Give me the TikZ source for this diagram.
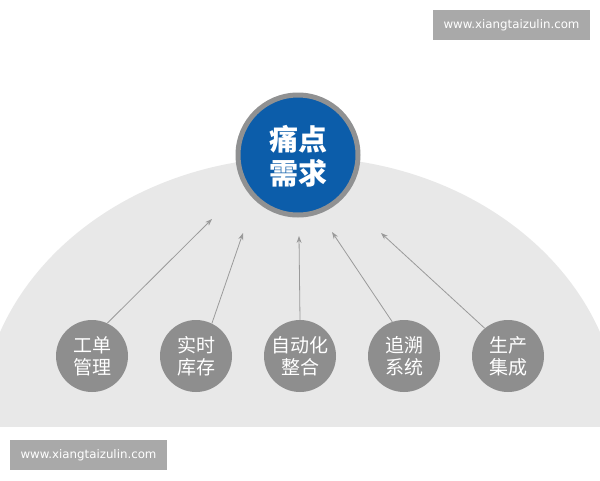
\documentclass[tikz,border=0pt]{standalone}
\usepackage{fontspec}
\setmainfont{DejaVu Sans}
\newfontfamily\cjk{Noto Sans CJK SC}
\usetikzlibrary{arrows.meta}
\definecolor{domegray}{HTML}{E8E8E8}
\definecolor{hubblue}{HTML}{0C5DAA}
\definecolor{ringgray}{HTML}{909192}
\definecolor{leafgray}{HTML}{8E8E8E}
\definecolor{arrgray}{HTML}{9A9A9A}
\definecolor{markgray}{HTML}{A9A9A9}
\tikzset{
  hub/.style={circle, fill=hubblue, draw=ringgray, line width=5pt, minimum size=120pt, inner sep=0pt,
    text=white, align=center, font=\cjk\bfseries\fontsize{29}{34}\selectfont},
  leaf/.style={circle, fill=leafgray, minimum size=72pt, inner sep=0pt,
    text=white, align=center, font=\cjk\fontsize{19}{22}\selectfont},
  arr/.style={draw=arrgray, line width=0.8pt, -{Stealth[length=7pt,width=5pt]}},
  wmark/.style={fill=markgray, text=white, inner sep=0pt, font=\fontsize{11.8}{13}\selectfont},
}
\begin{document}
\begin{tikzpicture}[x=1pt, y=-1pt]
\useasboundingbox (0,0) rectangle (600,480);
\fill[white] (0,0) rectangle (600,480);
\begin{scope}
  \clip (0,0) rectangle (600,426);
  \fill[domegray] (300,426) ellipse [x radius=320pt, y radius=269pt];
\end{scope}
\node[hub, text depth=-3pt] (hub) at (298,155) {痛点\\需求};
\node[leaf] (c1) at (92,356) {工单\\管理};
\node[leaf] (c2) at (196,356) {实时\\库存};
\node[leaf] (c3) at (300,356) {自动化\\整合};
\node[leaf] (c4) at (404,356) {追溯\\系统};
\node[leaf] (c5) at (508,356) {生产\\集成};
\coordinate (t1) at (212,219);
\coordinate (t2) at (243,233);
\coordinate (t3) at (299,236);
\coordinate (t4) at (332,232);
\coordinate (t5) at (381,233);
\draw[arr] (c1.65) -- (t1);
\draw[arr] (c2.64) -- (t2);
\draw[arr] (c3.90) -- (t3);
\draw[arr] (c4.109) -- (t4);
\draw[arr] (c5.130) -- (t5);
\node[wmark, minimum width=157pt, minimum height=30pt] (w1) at (511.5,25) {www.xiangtaizulin.com};
\node[wmark, minimum width=157pt, minimum height=30pt] (w2) at (88.5,455) {www.xiangtaizulin.com};
\end{tikzpicture}
\end{document}
